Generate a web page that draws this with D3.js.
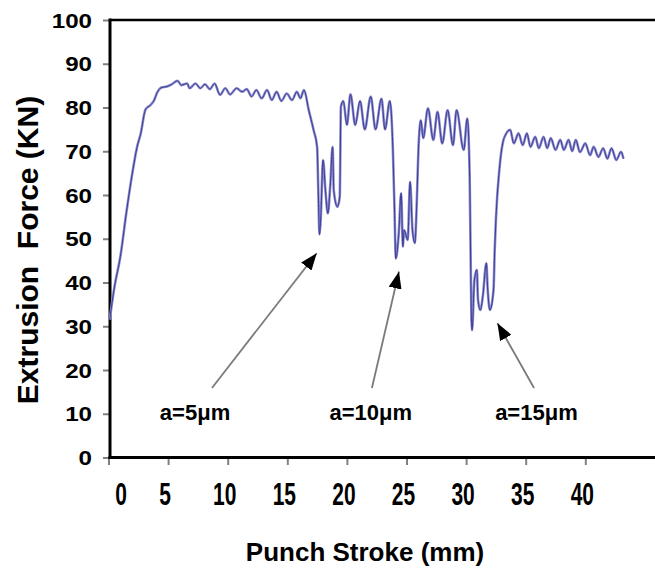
<!DOCTYPE html>
<html>
<head>
<meta charset="utf-8">
<script src="https://cdn.jsdelivr.net/npm/d3@7"></script>
<style>
  html, body { margin: 0; padding: 0; background: #fff; }
  svg { display: block; }
  text { font-family: "Liberation Sans", Arial, sans-serif; font-weight: bold; fill: #000; }
</style>
</head>
<body>
<svg id="chart" width="655" height="569"></svg>
<script>
// ---- data ----
const strokeMm = [
  0.1, 0.5, 1.0, 1.5, 2.0, 2.4, 2.7, 3.1, 3.5, 3.8, 4.1, 4.4,
  4.9, 5.3, 5.8, 6.1, 6.6, 6.8, 7.3, 7.7, 8.1, 8.5, 8.9, 9.35, 9.8, 10.2, 10.75, 11.2, 11.6, 12.0,
  12.4, 12.85, 13.3, 13.7, 14.1, 14.5, 14.95, 15.4, 15.8, 16.1, 16.4, 16.8, 17.2, 17.5, 17.6, 17.7,
  17.8, 18.0, 18.2, 18.4, 18.6, 18.8, 18.9, 19.2, 19.4, 19.5,
  19.7, 20.0, 20.3, 20.7, 21.1, 21.5, 22.0, 22.4, 22.9, 23.2, 23.6, 23.85, 24.0, 24.1,
  24.35, 24.55, 24.7, 24.8, 25.1, 25.3, 25.5, 25.7, 25.85, 26.0, 26.2, 26.4,
  26.8, 27.25, 27.6, 28.0, 28.45, 28.9, 29.2, 29.8, 30.1, 30.3, 30.45, 30.5,
  30.7, 30.9, 31.0, 31.2, 31.4, 31.7, 31.8, 32.0, 32.3, 32.4, 32.5, 32.8, 33.1, 33.3,
  33.7, 34.0, 34.4, 34.75, 35.1, 35.4, 35.8, 36.1, 36.5, 36.8, 37.1, 37.5, 37.9, 38.2,
  38.6, 38.9, 39.2, 39.55, 40.0, 40.4, 40.7, 41.1, 41.5, 41.85, 42.2, 42.6, 43.0, 43.2
];
const forceKN = [
  31.5, 39, 46, 56, 65, 71, 74, 79.5, 80.5, 81.5, 83.5, 84.5,
  84.8, 85.3, 86.1, 85.1, 85.5, 84.4, 85.5, 84.4, 85.3, 84.2, 85.5, 82.9, 84.4, 83, 84.4, 83.6, 84.2, 82.5,
  84, 82.1, 84, 81.7, 83.6, 81.5, 83.2, 81.7, 83.6, 82.1, 84, 79.4, 74.9, 71, 61, 51,
  54.3, 68, 61, 55.8, 62, 71, 61, 57.3, 59.6, 80.2,
  81.5, 76, 83, 76, 81.5, 75, 82.5, 75, 82, 75, 81.5, 71, 56, 45.5,
  51.2, 60.4, 48.2, 52, 49.7, 63, 52, 49, 57.3, 70.3, 77.1, 73,
  79.8, 72.6, 79, 71.8, 79.4, 71.4, 79.4, 70.3, 77.5, 64.2, 31.4, 29.1,
  40.6, 42.9, 36, 33.7, 36.8, 44.4, 39, 33.7, 38.3, 47.4, 54.3, 66.1, 72.2, 73.7,
  74.9, 71.8, 74.1, 71.4, 74.1, 71, 73.3, 70.7, 73.3, 70.7, 73, 70.3, 72.6, 70.3,
  72.6, 70, 72.6, 69.8, 71.8, 69.1, 71, 68.7, 70.7, 68.3, 70.7, 68, 69.9, 68.3
];
const xTicks = [0, 5, 10, 15, 20, 25, 30, 35, 40];
const yTicks = [0, 10, 20, 30, 40, 50, 60, 70, 80, 90, 100];
const xTitle = "Punch Stroke (mm)";
const yTitle = "Extrusion  Force (KN)";

// annotations (data units)
const noteLabels = ["a=5\u03bcm", "a=10\u03bcm", "a=15\u03bcm"];
const noteLabelX = [7.26, 22.0, 35.9];
const noteLabelY = [8.57, 8.57, 8.57];
const noteFromX = [8.68, 22.1, 35.7];
const noteFromY = [15.9, 15.9, 15.9];
const noteTipX = [17.47, 24.37, 32.63];
const noteTipY = [46.7, 42.5, 30.7];

// ---- layout ----
const svg = d3.select("#chart");
const x = d3.scaleLinear().domain([0, 40]).range([108.5, 585.3]);
const y = d3.scaleLinear().domain([0, 100]).range([457.5, 20]);
const xEnd = 655;

// y axis ticks
const yAxis = d3.axisLeft(y).tickValues(yTicks).tickSize(7).tickFormat("");
const gy = svg.append("g").attr("transform", "translate(110,0)").call(yAxis);
gy.select(".domain").remove();
gy.selectAll(".tick line").attr("stroke", "#808080").attr("stroke-width", 2);

// x axis ticks
const xAxis = d3.axisBottom(x).tickValues(xTicks).tickSize(8).tickFormat("");
const gx = svg.append("g").attr("transform", "translate(0,457)").call(xAxis);
gx.select(".domain").remove();
gx.selectAll(".tick line").attr("stroke", "#808080").attr("stroke-width", 2);

// frame lines: left axis, bottom axis, top border
svg.append("line").attr("x1", 110).attr("x2", 110).attr("y1", y(100) - 1.5).attr("y2", y(0) + 1.5)
  .attr("stroke", "#000").attr("stroke-width", 3);
svg.append("line").attr("x1", 108.5).attr("x2", xEnd).attr("y1", y(0)).attr("y2", y(0))
  .attr("stroke", "#000").attr("stroke-width", 3);
svg.append("line").attr("x1", 110).attr("x2", xEnd).attr("y1", y(100)).attr("y2", y(100))
  .attr("stroke", "#000").attr("stroke-width", 2.5);

// y tick labels
svg.append("g").selectAll("text").data(yTicks).join("text")
  .attr("transform", d => `translate(92,${y(d)}) scale(1.15,1)`)
  .attr("text-anchor", "end")
  .attr("dy", "0.36em")
  .style("font-size", "21px")
  .text(d => d);

// x tick labels
svg.append("g").selectAll("text").data(xTicks).join("text")
  .attr("transform", d => `translate(${x(d) + (d === 0 ? 12.5 : -3)},505) scale(1,1.45)`)
  .attr("text-anchor", "middle")
  .style("font-size", "21px")
  .text(d => d);

// axis titles
svg.append("text")
  .attr("x", 365).attr("y", 561)
  .attr("text-anchor", "middle")
  .style("font-size", "26px")
  .text(xTitle);
svg.append("text")
  .attr("transform", "translate(38,250) rotate(-90)")
  .attr("text-anchor", "middle")
  .attr("xml:space", "preserve")
  .style("white-space", "pre")
  .style("font-size", "30px")
  .text(yTitle);

// curve
const pts = strokeMm.map((v, i) => [v, forceKN[i]]);
const line = d3.line().x(d => x(d[0])).y(d => y(d[1])).curve(d3.curveMonotoneX);
svg.append("path").datum(pts).attr("d", line)
  .attr("fill", "none").attr("stroke", "#8e8ecb").attr("stroke-width", 2.6)
  .attr("stroke-linejoin", "round");
svg.append("path").datum(pts).attr("d", line)
  .attr("fill", "none").attr("stroke", "#3a3a9a").attr("stroke-width", 1)
  .attr("stroke-linejoin", "round");

// arrows
const defs = svg.append("defs");
defs.append("marker").attr("id", "arrowhead")
  .attr("viewBox", "0 0 17 13").attr("refX", 17).attr("refY", 6.5)
  .attr("markerWidth", 17).attr("markerHeight", 13)
  .attr("markerUnits", "userSpaceOnUse").attr("orient", "auto")
  .append("path").attr("d", "M0,0 L17,6.5 L0,13 Z").attr("fill", "#000");

const notes = noteLabels.map((t, i) => ({ t, i }));
svg.append("g").selectAll("line").data(notes).join("line")
  .attr("x1", d => x(noteFromX[d.i])).attr("y1", d => y(noteFromY[d.i]))
  .attr("x2", d => x(noteTipX[d.i])).attr("y2", d => y(noteTipY[d.i]))
  .attr("stroke", "#7a7a7a").attr("stroke-width", 1.8)
  .attr("marker-end", "url(#arrowhead)");
svg.append("g").selectAll("text").data(notes).join("text")
  .attr("x", d => x(noteLabelX[d.i])).attr("y", d => y(noteLabelY[d.i]))
  .attr("text-anchor", "middle")
  .style("font-size", "22px")
  .text(d => d.t);
</script>
</body>
</html>
